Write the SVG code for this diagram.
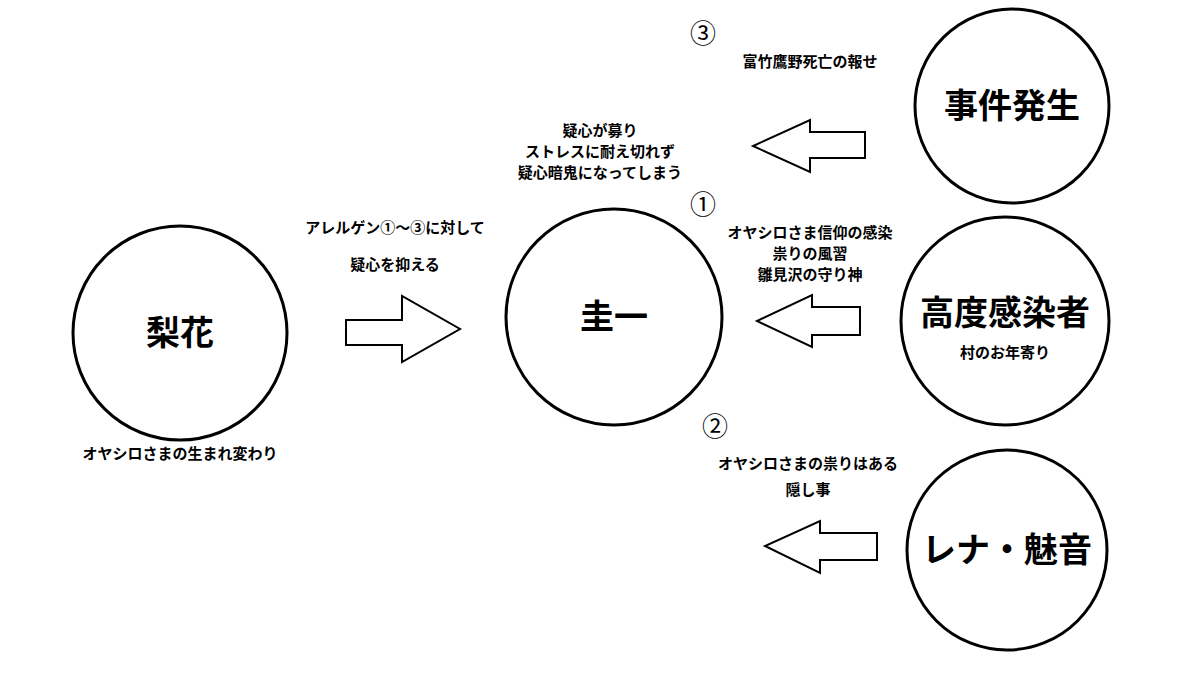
<svg xmlns="http://www.w3.org/2000/svg" width="1200" height="675" viewBox="0 0 1200 675">
<style>
.c{fill:#fff;stroke:#000;stroke-width:3}
.a{fill:#fff;stroke:#000;stroke-width:2}
text{font-family:"Noto Sans CJK JP","Noto Sans",sans-serif;font-weight:bold;fill:#000;text-anchor:middle}
.big{font-size:34px}
.s{font-size:15px}
.n{font-size:26px;font-weight:normal}
</style>
<rect width="1200" height="675" fill="#fff"/>
<g id="rika"><circle class="c" cx="180" cy="333" r="107"/><text class="big" x="180" y="345">梨花</text></g>
<g id="keiichi"><circle class="c" cx="614" cy="317" r="108"/><text class="big" x="614" y="329">圭一</text></g>
<g id="jiken"><circle class="c" cx="1012" cy="106" r="97"/><text class="big" x="1012" y="118">事件発生</text></g>
<g id="koudo"><circle class="c" cx="1005" cy="321" r="104"/><text class="big" x="1005" y="325">高度感染者</text><text class="s" x="1005" y="358">村のお年寄り</text></g>
<g id="rena"><circle class="c" cx="1007" cy="550" r="100"/><text class="big" x="1007" y="562">レナ・魅音</text></g>
<g id="connectors">
<polygon class="a" points="346,320 402,320 402,296 460,329 402,362 402,345 346,345"/>
<polygon class="a" points="865,132 810,132 810,120 753,146 810,172 810,158 865,158"/>
<polygon class="a" points="860,307 812,307 812,295 757,321 812,347 812,335 860,335"/>
<polygon class="a" points="877,533 820,533 820,521 765,546 820,573 820,560 877,560"/>
</g>
<text class="n" x="703" y="43">③</text>
<text class="s" x="810" y="67">富竹鷹野死亡の報せ</text>
<text class="s" x="600" y="136">疑心が募り</text>
<text class="s" x="600" y="157">ストレスに耐え切れず</text>
<text class="s" x="600" y="178">疑心暗鬼になってしまう</text>
<text class="n" x="703" y="214">①</text>
<text class="s" x="810" y="238">オヤシロさま信仰の感染</text>
<text class="s" x="810" y="259">祟りの風習</text>
<text class="s" x="810" y="280">雛見沢の守り神</text>
<text class="s" x="395" y="233">アレルゲン①～③に対して</text>
<text class="s" x="395" y="270">疑心を抑える</text>
<text class="s" x="180" y="459">オヤシロさまの生まれ変わり</text>
<text class="n" x="715" y="436">②</text>
<text class="s" x="808" y="469">オヤシロさまの祟りはある</text>
<text class="s" x="808" y="495">隠し事</text>
</svg>
